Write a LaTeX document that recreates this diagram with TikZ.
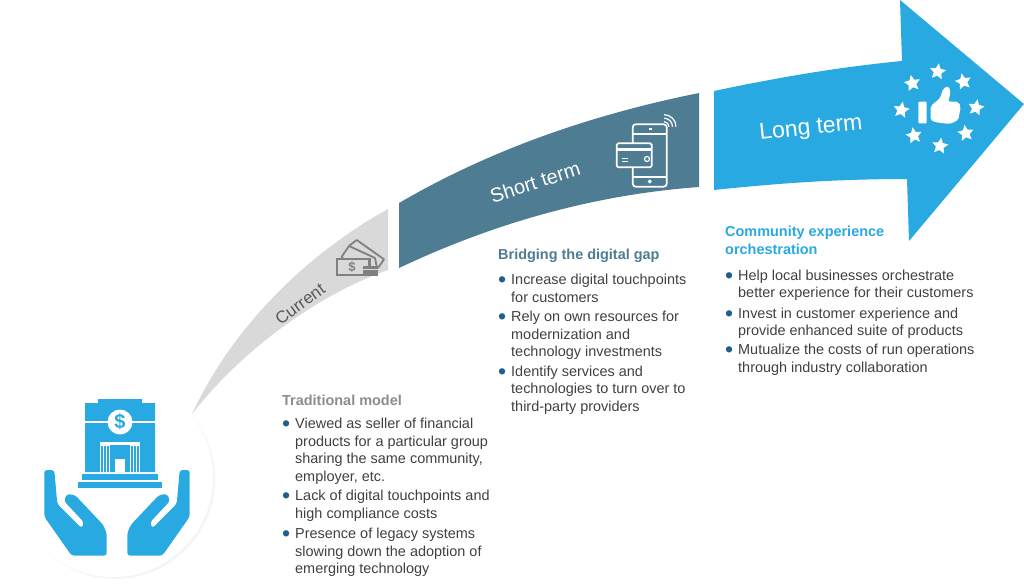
\documentclass[tikz,border=0pt]{standalone}
\usepackage{fontspec}
\setmainfont{Liberation Sans}
\usetikzlibrary{positioning,shapes.geometric}
\definecolor{bluearrow}{HTML}{29A9E1}
\definecolor{darkarrow}{HTML}{4E7C93}
\definecolor{greyarrow}{HTML}{D9D9D9}
\definecolor{greyicon}{HTML}{808080}
\definecolor{bodytext}{HTML}{404040}
\definecolor{bulletblue}{HTML}{1F5F8B}
\newcommand{\bulletmark}{\llap{\textcolor{bulletblue}{\raisebox{-3pt}{\scalebox{1.6}{\textbullet}}}\hspace{5pt}}}
\tikzset{
  headtext/.style={anchor=north west,align=left,inner sep=0pt,font=\fontsize{14.45}{17.5}\selectfont\bfseries,execute at end node=\strut},
  itemtext/.style={align=left,inner sep=0pt,text=bodytext,font=\fontsize{14.45}{17.6}\selectfont,execute at begin node=\strut,execute at end node=\strut},
  termtext/.style={inner sep=0pt,text=white},
  starmark/.style={star,star points=5,star point ratio=2.1,fill=white,inner sep=0pt,minimum size=17pt},
  phoneline/.style={draw=white,line width=1.7pt}
}
\begin{document}
\begin{tikzpicture}[x=1pt,y=-1pt]
\useasboundingbox (0,0) rectangle (1024,583);

% draw circle
\fill[black!4] (115,479) circle[radius=100pt];
\fill[white] (113,477) circle[radius=100pt];

% draw arrow parts
\fill[greyarrow] (192,414) .. controls (232,328) and (305,255) .. (388,209) -- (388,270) .. controls (330,290) and (250,340) .. cycle;
\fill[darkarrow] (399,203) .. controls (490,150) and (590,115) .. (699,93) -- (699,187) .. controls (590,195) and (490,225) .. (399,268) -- cycle;
\fill[bluearrow] (714,91) .. controls (780,77) and (840,67) .. (902,61) -- (900,0) -- (1024,104) -- (909,241) -- (907,179) .. controls (840,179) and (780,183) .. (714,190) -- cycle;

% draw arrow labels
\node (current) [termtext,text=black!65,rotate=36,font=\fontsize{17}{19}\selectfont] at (300,304) {Current};
\node (shortterm) [termtext,rotate=18,font=\fontsize{20}{22}\selectfont] at (535,182) {Short term};
\node (longterm) [termtext,rotate=6,font=\fontsize{23}{25}\selectfont] at (811,129) {Long term};

% draw bank
\fill[bluearrow] (85,403) -- (98,403) -- (98,399) -- (142,399) -- (142,403) -- (155,403) -- (155,472) -- (85,472) -- cycle;
\fill[white] (85,421) rectangle (155,422.5);
\fill[white] (100,442) rectangle (140,472);
\foreach \x in {102,105,108,132,135,138}
\fill[bluearrow] (\x-0.7,446) rectangle (\x+0.7,472);
\fill[bluearrow] (110,445) rectangle (130,472);
\fill[white] (115,459) rectangle (125,472);
\fill[bluearrow] (81.7,473.5) rectangle (158.3,479.5);
\fill[bluearrow] (78.3,481.5) rectangle (161.7,487.5);
\node (coin) [circle,fill=white,inner sep=0pt,minimum size=25pt,text=bluearrow,font=\fontsize{20}{22}\selectfont\bfseries] at (120,422) {\$};

% draw hands
\foreach \s in {1,-1}{
\begin{scope}[shift={(117,0)},xscale=\s]
\fill[bluearrow,rounded corners=3pt] (-72.7,472) -- (-72.7,516.7) -- (-45.3,555.7) -- (-10.3,555.7) -- (-10.3,533.3) -- (-13.7,525) -- (-42,495) -- (-50.3,494) -- (-53,501) -- (-33,522.3) -- (-35.3,528.3) -- (-59.7,504) -- (-62.7,470) -- (-72.7,470) -- cycle;
\end{scope}
}

% draw phone
\draw[phoneline,rounded corners=3pt] (632.7,124.3) rectangle (666.7,186.7);
\draw[phoneline] (632.7,134) -- (666.7,134);
\draw[phoneline] (632.7,176.7) -- (666.7,176.7);
\draw[phoneline,fill=darkarrow,rounded corners=1.5pt] (616.7,143.3) rectangle (651.7,167.3);
\fill[white] (616.7,147.5) rectangle (651.7,150.5);
\draw[white,line width=1pt] (622,158) -- (628,158);
\draw[white,line width=1pt] (622,161) -- (628,161);
\draw[white,line width=1.2pt] (647,159) circle[radius=2.5pt];
\draw[white,line width=1.2pt] (649,129) -- (652,129);
\draw[white,line width=1.2pt] (649.7,181.5) circle[radius=1.2pt];
\foreach \r in {5,8.5,12}
\draw[white,line width=1.2pt] (664,126.7-\r) arc[start angle=90,end angle=0,radius=\r pt];

% draw money
\draw[greyicon,line width=1.8pt,line join=round] (349,246) -- (356.7,240) -- (384,259.3) -- (378,268);
\draw[greyicon,line width=1.8pt,fill=greyarrow,line join=round] (341.7,256.7) -- (349,246) -- (375,258) -- (377,268) -- (345,262) -- cycle;
\draw[greyicon,line width=2.2pt,fill=greyarrow] (336.7,259.3) rectangle (369.5,275);
\fill[greyicon] (363.3,265.7) rectangle (378.3,275.7);
\fill[greyarrow] (363.3,269) rectangle (378.3,270);
\node (dollar) [inner sep=0pt,text=greyicon,font=\fontsize{13}{15}\selectfont\bfseries] at (352,267) {\$};

% draw thumb and stars
\fill[white,rounded corners=1pt] (918.3,101.7) rectangle (926.7,123.3);
\fill[white,rounded corners=2pt] (930.7,120.7) -- (930.7,106) -- (940,98.3) -- (943.3,88.3) -- (948.3,86) -- (950.7,91.7) -- (948.3,101.7) -- (958.3,101.7) -- (960.7,106.7) -- (958.3,120) -- (950,124) -- (938.3,122.7) -- cycle;
\foreach \i/\x/\y/\a in {1/937.7/71.7/-8,2/963.3/81.7/12,3/976/107.7/-10,4/965.7/133.3/8,5/940/146/-8,6/914/135.7/10,7/901.3/110/-10,8/912.3/83.3/10}
\node (star\i) [starmark,rotate=\a] at (\x,\y) {};

% draw text left
\node (tradhead) [headtext,text=black!45] at (282,393.5) {Traditional model};
\node (trad1) [itemtext,below right=6.4pt and 13pt of tradhead.south west] {\bulletmark Viewed as seller of financial\\products for a particular group\\sharing the same community,\\employer, etc.};
\node (trad2) [itemtext,below=3pt of trad1.south west,anchor=north west] {\bulletmark Lack of digital touchpoints and\\high compliance costs};
\node (trad3) [itemtext,below=4.4pt of trad2.south west,anchor=north west] {\bulletmark Presence of legacy systems\\slowing down the adoption of\\emerging technology};

% draw text middle
\node (bridgehead) [headtext,text=darkarrow] at (498,247.5) {Bridging the digital gap};
\node (bridge1) [itemtext,below right=8.4pt and 13pt of bridgehead.south west] {\bulletmark Increase digital touchpoints\\for customers};
\node (bridge2) [itemtext,below=3.4pt of bridge1.south west,anchor=north west] {\bulletmark Rely on own resources for\\modernization and\\technology investments};
\node (bridge3) [itemtext,below=3.4pt of bridge2.south west,anchor=north west] {\bulletmark Identify services and\\technologies to turn over to\\third-party providers};

% draw text right
\node (commhead) [headtext,text=bluearrow] at (725,226) {Community experience\\orchestration};
\node (comm1) [itemtext,below right=10pt and 13pt of commhead.south west] {\bulletmark Help local businesses orchestrate\\better experience for their customers};
\node (comm2) [itemtext,below=4pt of comm1.south west,anchor=north west] {\bulletmark Invest in customer experience and\\provide enhanced suite of products};
\node (comm3) [itemtext,below=2.8pt of comm2.south west,anchor=north west] {\bulletmark Mutualize the costs of run operations\\through industry collaboration};

\end{tikzpicture}
\end{document}
